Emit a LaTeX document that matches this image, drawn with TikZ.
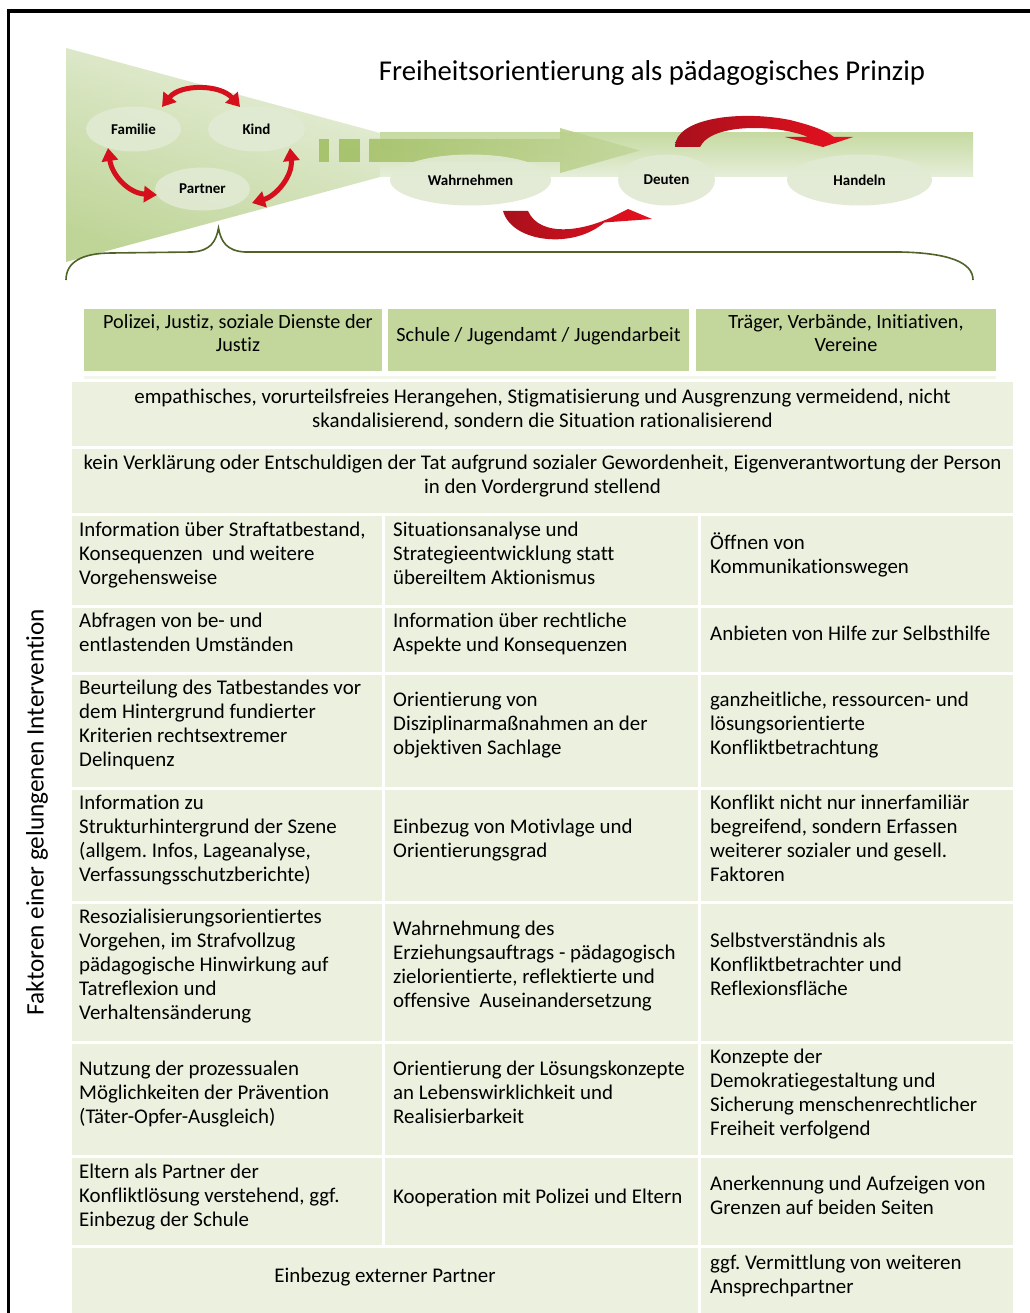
\documentclass[tikz,border=0pt]{standalone}
\usepackage{fontspec}
\setmainfont[Ligatures=NoCommon]{Carlito}
\usetikzlibrary{arrows.meta,shapes.geometric}

\definecolor{hdr}{HTML}{C3D69B}
\definecolor{cell}{HTML}{EBF1DE}
\definecolor{blobfill}{HTML}{E1EAD3}
\definecolor{flowgreen}{HTML}{9BBB59}
\definecolor{funnelD}{HTML}{BFD598}
\definecolor{funnelL}{HTML}{E8EFDC}
\definecolor{bandT}{HTML}{C6DAA2}
\definecolor{bandB}{HTML}{E6EEDA}
\definecolor{rdark}{HTML}{A8101C}
\definecolor{rbright}{HTML}{E8101E}
\definecolor{bracecol}{HTML}{4F6228}

\newcommand{\cellfont}{\fontsize{20.9}{24}\selectfont}
\newcommand{\hdrfont}{\fontsize{20.2}{23}\selectfont}

\begin{document}
\frenchspacing
\begin{tikzpicture}[x=1pt,y=-1pt,
  celltext/.style={anchor=west,inner sep=0pt,align=left,font=\cellfont,yshift=-4pt,
    execute at begin node=\strut,execute at end node=\strut},
  ctrtext/.style={anchor=center,inner sep=0pt,align=center,font=\cellfont,yshift=-4pt,
    execute at begin node=\strut,execute at end node=\strut},
  hdrtext/.style={ctrtext,font=\hdrfont},
  blob/.style={ellipse,fill=blobfill,fill opacity=0.92,text opacity=1,
    inner sep=0pt,font=\fontsize{15}{17}\selectfont\bfseries},
  smallarrow/.style={draw=rbright!92!black,line width=5pt,
    {Triangle[width=16pt,length=13pt]}-{Triangle[width=16pt,length=13pt]}},
  bracestyle/.style={draw=bracecol,line width=1.6pt},
]
\useasboundingbox (0,0) rectangle (1029,1313);
\fill[white] (0,0) rectangle (1029,1313);

% frame
\draw[line width=3.4pt] (8.3,1330) -- (8.3,11) -- (1040,11);

% funnel and flow band
\shade[top color=funnelL,bottom color=funnelD,shading angle=-20]
  (66,48) -- (380,133) -- (380,177) -- (66,262) -- cycle;
\shade[top color=bandT,bottom color=bandB] (380,133) rectangle (973,177);

% green flow arrow with leading dashes
\fill[flowgreen,opacity=0.8] (319,139) rectangle (329,162);
\fill[flowgreen,opacity=0.8] (339,139) rectangle (360,162);
\shade[left color=flowgreen!90,right color=flowgreen!60,opacity=0.9]
  (369,139) -- (560,139) -- (560,128) -- (640,150.5) -- (560,173) -- (560,162) -- (369,162) -- cycle;

% ellipses
\node[blob,minimum width=95,minimum height=45] (familie) at (133.5,129) {Familie};
\node[blob,minimum width=97,minimum height=45] (kind) at (256.5,129) {Kind};
\node[blob,minimum width=95,minimum height=43] (partner) at (202.5,189) {Partner};
\node[blob,minimum width=161,minimum height=51] (wahr) at (470.5,180) {Wahrnehmen};
\node[blob,minimum width=97,minimum height=51] (deuten) at (666.5,180) {Deuten};
\node[blob,minimum width=145,minimum height=51] (handeln) at (859.5,180) {Handeln};

% circular red arrows between the three ellipses
\draw[smallarrow] (162,107) .. controls (180,84) and (220,84) .. (240,107);
\draw[smallarrow] (108,148) .. controls (112,175) and (128,193) .. (157,195);
\draw[smallarrow] (290,148) .. controls (293,176) and (276,196) .. (252,203);

% curved arrow Deuten -> Handeln
\shade[left color=rdark,right color=rbright]
  (675,147) .. controls (675,118) and (740,110) .. (790,120)
  .. controls (810,125) and (825,130) .. (834,137) -- (853,137) -- (823,147)
  -- (785,137) -- (808,137) .. controls (780,125) and (712,122) .. (700,147) -- cycle;

% curved arrow Wahrnehmen -> Deuten
\shade[left color=rdark,right color=rbright]
  (503,211) .. controls (512,243) and (575,250) .. (606,221) -- (597,223)
  -- (652,219) -- (628,209) -- (620,213) .. controls (585,232) and (540,238) .. (528,211) -- cycle;

% title
\node[anchor=base,inner sep=0pt,font=\fontsize{28.7}{32}\selectfont] (title) at (652,81)
  {Freiheitsorientierung als pädagogisches Prinzip};

% brace
\draw[bracestyle] (66,280) .. controls (66,262) and (82,253) .. (112,253) -- (192,252)
  .. controls (210,251) and (216,242) .. (218.5,228)
  .. controls (221,242) and (227,251) .. (245,252) -- (900,252)
  .. controls (948,253) and (973,262) .. (973,280);

% header boxes
\fill[hdr] (84,309) rectangle (382,371);
\fill[hdr] (388,309) rectangle (689,371);
\fill[hdr] (696,309) rectangle (996,371);
\fill[cell!60] (84,375.5) rectangle (996,378.5);
\node[hdrtext] (h1) at (238,332.5) {Polizei, Justiz, soziale Dienste der\\Justiz};
\node[hdrtext] (h2) at (538.5,333) {Schule / Jugendamt / Jugendarbeit};
\node[hdrtext] (h3) at (846,332.5) {Träger, Verbände, Initiativen,\\Vereine};

% full-width rows
\fill[cell] (72,382) rectangle (1013,446);
\fill[cell] (72,449) rectangle (1013,513);
\node[ctrtext] (ra) at (542.5,408) {empathisches, vorurteilsfreies Herangehen, Stigmatisierung und Ausgrenzung vermeidend, nicht\\skandalisierend, sondern die Situation rationalisierend};
\node[ctrtext] (rb) at (542.5,474) {kein Verklärung oder Entschuldigen der Tat aufgrund sozialer Gewordenheit, Eigenverantwortung der Person\\in den Vordergrund stellend};

% three-column rows
\foreach \ya/\yb in {516/605,608/672,675/787,790/901,904/1041,1044/1155,1158/1245}{
  \fill[cell] (72,\ya) rectangle (382,\yb);
  \fill[cell] (385,\ya) rectangle (698,\yb);
  \fill[cell] (701,\ya) rectangle (1013,\yb);
}
\fill[cell] (72,1248) rectangle (698,1330);
\fill[cell] (701,1248) rectangle (1013,1330);

% column 1
\node[celltext] (a1) at (79,553) {Information über Straftatbestand,\\Konsequenzen\ \ und weitere\\Vorgehensweise};
\node[celltext] (a2) at (79,632) {Abfragen von be- und\\entlastenden Umständen};
\node[celltext] (a3) at (79,723) {Beurteilung des Tatbestandes vor\\dem Hintergrund fundierter\\Kriterien rechtsextremer\\Delinquenz};
\node[celltext] (a4) at (79,838) {Information zu\\Strukturhintergrund der Szene\\(allgem. Infos, Lageanalyse,\\Verfassungsschutzberichte)};
\node[celltext] (a5) at (79,964) {Resozialisierungsorientiertes\\Vorgehen, im Strafvollzug\\pädagogische Hinwirkung auf\\Tatreflexion und\\Verhaltensänderung};
\node[celltext] (a6) at (79,1092) {Nutzung der prozessualen\\Möglichkeiten der Prävention\\(Täter-Opfer-Ausgleich)};
\node[celltext] (a7) at (79,1195) {Eltern als Partner der\\Konfliktlösung verstehend, ggf.\\Einbezug der Schule};

% column 2
\node[celltext] (b1) at (393,553) {Situationsanalyse und\\Strategieentwicklung statt\\übereiltem Aktionismus};
\node[celltext] (b2) at (393,632) {Information über rechtliche\\Aspekte und Konsequenzen};
\node[celltext] (b3) at (393,723) {Orientierung von\\Disziplinarmaßnahmen an der\\objektiven Sachlage};
\node[celltext] (b4) at (393,838) {Einbezug von Motivlage und\\Orientierungsgrad};
\node[celltext] (b5) at (393,964) {Wahrnehmung des\\Erziehungsauftrags - pädagogisch\\zielorientierte, reflektierte und\\offensive\ \ Auseinandersetzung};
\node[celltext] (b6) at (393,1092) {Orientierung der Lösungskonzepte\\an Lebenswirklichkeit und\\Realisierbarkeit};
\node[celltext] (b7) at (393,1195) {Kooperation mit Polizei und Eltern};

% column 3
\node[celltext] (c1) at (710,553) {Öffnen von\\Kommunikationswegen};
\node[celltext] (c2) at (710,632) {Anbieten von Hilfe zur Selbsthilfe};
\node[celltext] (c3) at (710,723) {ganzheitliche, ressourcen- und\\lösungsorientierte\\Konfliktbetrachtung};
\node[celltext] (c4) at (710,838) {Konflikt nicht nur innerfamiliär\\begreifend, sondern Erfassen\\weiterer sozialer und gesell.\\Faktoren};
\node[celltext] (c5) at (710,964) {Selbstverständnis als\\Konfliktbetrachter und\\Reflexionsfläche};
\node[celltext] (c6) at (710,1092) {Konzepte der\\Demokratiegestaltung und\\Sicherung menschenrechtlicher\\Freiheit verfolgend};
\node[celltext] (c7) at (710,1195) {Anerkennung und Aufzeigen von\\Grenzen auf beiden Seiten};
\node[celltext] (c8) at (710,1274) {ggf. Vermittlung von weiteren\\Ansprechpartner};

% last row, merged cell
\node[ctrtext] (d8) at (385,1274) {Einbezug externer Partner};

% side label
\node[rotate=90,inner sep=0pt,font=\fontsize{25.2}{29}\selectfont] (side) at (37,812)
  {Faktoren einer gelungenen Intervention};
\end{tikzpicture}
\end{document}
